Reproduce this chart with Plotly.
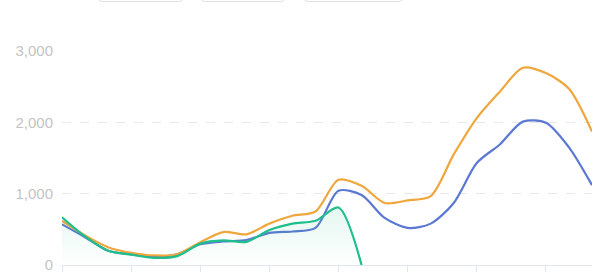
import plotly.graph_objects as go

# Hourly categories
hours = [f"{h:02d}:00" for h in range(24)]

# Series values per hour
series_blue = [570, 390, 200, 150, 115, 150, 290, 330, 350, 450, 470, 520,
               1040, 980, 660, 520, 580, 870, 1430, 1690, 2010, 1995, 1650, 1120]
series_orange = [617, 415, 250, 172, 134, 150, 320, 462, 430, 580, 690, 750,
                 1195, 1110, 870, 905, 965, 1550, 2060, 2430, 2765, 2690, 2470, 1870]
series_green = [669, 400, 200, 145, 100, 125, 300, 345, 325, 490, 580, 620,
                805, 0] + [None] * 10

tick_hours = hours[::3]
y_ticks = [0, 1000, 2000, 3000]

BLUE = "#5b78d2"
ORANGE = "#efa63c"
GREEN = "#1fbf8b"

fig = go.Figure()

fig.add_trace(go.Scatter(
    x=hours, y=series_blue, mode="lines", name="blue",
    line=dict(color=BLUE, width=2.2, shape="spline", smoothing=0.8),
))
fig.add_trace(go.Scatter(
    x=hours, y=series_orange, mode="lines", name="orange",
    line=dict(color=ORANGE, width=2.2, shape="spline", smoothing=0.8),
))
fig.add_trace(go.Scatter(
    x=hours, y=series_green, mode="lines", name="green",
    line=dict(color=GREEN, width=2.2, shape="spline", smoothing=0.8),
    fill="tozeroy",
    fillgradient=dict(
        type="vertical",
        colorscale=[[0, "rgba(31,191,139,0.0)"], [1, "rgba(31,191,139,0.12)"]],
    ),
    connectgaps=False,
))

# Legend frames along the top edge
L, R, T, B = 62, 18, 51, 8
W, H = 610, 273
pw, ph = W - L - R, H - T - B


def px_to_paper(px, py):
    return (px - L) / pw, (H - B - py) / ph


def rounded_box(x0, x1, y0, y1, r=4):
    ax0, ay1 = px_to_paper(x0, y1)
    ax1, ay0 = px_to_paper(x1, y0)
    rx = r / pw
    ry = r / ph
    return (f"M {ax0},{ay0 - ry} L {ax0},{ay1 + ry} Q {ax0},{ay1} {ax0 + rx},{ay1} "
            f"L {ax1 - rx},{ay1} Q {ax1},{ay1} {ax1},{ay1 + ry} L {ax1},{ay0 - ry} "
            f"Q {ax1},{ay0} {ax1 - rx},{ay0} L {ax0 + rx},{ay0} Q {ax0},{ay0} {ax0},{ay0 - ry} Z")


shapes = []
for bx0, bx1 in [(98, 183), (201, 285), (304, 403)]:
    shapes.append(dict(
        type="path", xref="paper", yref="paper",
        path=rounded_box(bx0, bx1, -20, 1.5),
        line=dict(color="#e0e0e0", width=1),
        fillcolor="rgba(255,255,255,0)",
    ))

fig.update_layout(
    width=W, height=H,
    margin=dict(l=L, r=R, t=T, b=B, autoexpand=False),
    paper_bgcolor="white", plot_bgcolor="white",
    showlegend=False,
    shapes=shapes,
    font=dict(family="Liberation Sans, Arial, sans-serif"),
)

fig.update_xaxes(
    type="category", range=[0, 23],
    showgrid=False, zeroline=False,
    showline=True, linecolor="#e0e6f1", linewidth=1,
    ticks="outside", ticklen=6, tickcolor="#e0e6f1",
    tickmode="array", tickvals=tick_hours, ticktext=tick_hours,
    showticklabels=False, automargin=False,
)
fig.update_yaxes(
    range=[0, 3000],
    tickmode="array", tickvals=y_ticks, tickformat=",",
    showgrid=True, gridcolor="#e8e8e8", griddash="dash", gridwidth=1,
    zeroline=False, showline=False,
    tickfont=dict(size=15, color="#c4c4c4"),
    ticklabelstandoff=8, ticklabeloverflow="allow", automargin=False,
)

fig.write_html("out.html")
